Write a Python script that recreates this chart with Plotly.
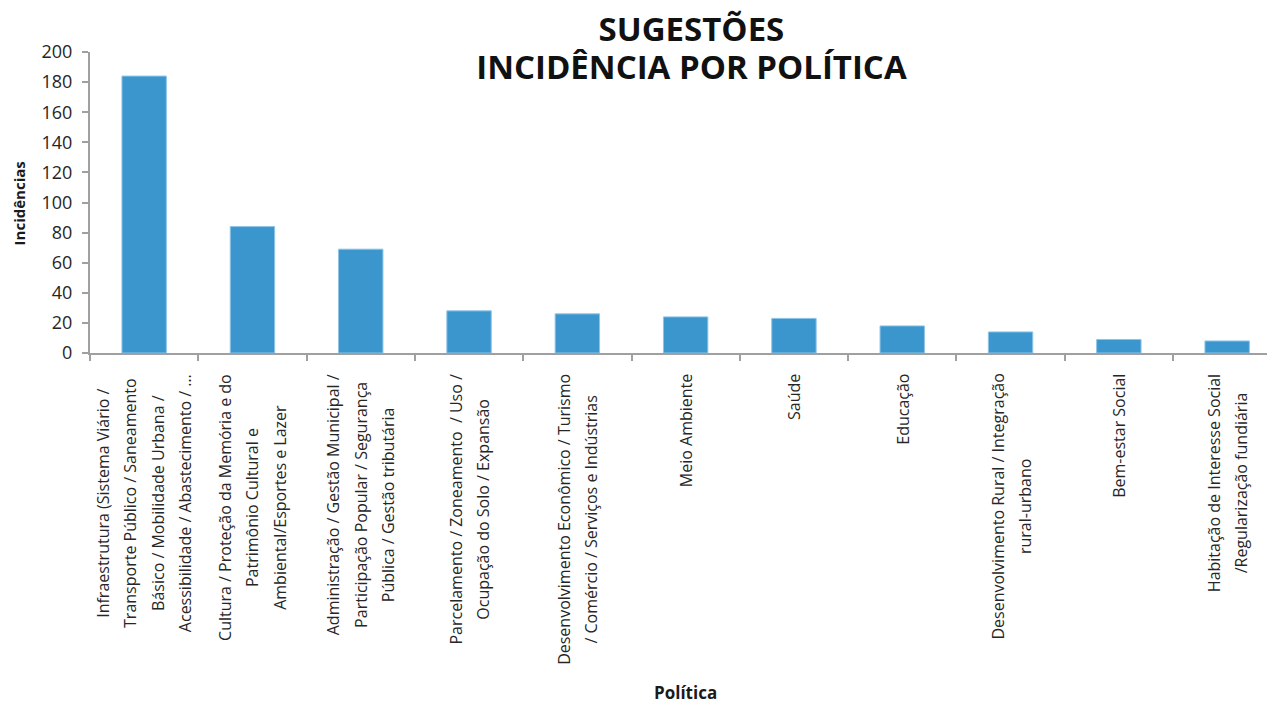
import plotly.graph_objects as go

categories = [
    "Infraestrutura",
    "Cultura",
    "Administração",
    "Parcelamento",
    "Desenvolvimento Econômico",
    "Meio Ambiente",
    "Saúde",
    "Educação",
    "Desenvolvimento Rural",
    "Bem-estar Social",
    "Habitação de Interesse Social",
]
values = [184, 84, 69, 28, 26, 24, 23, 18, 14, 9, 8]
tick_labels = [
    ["Infraestrutura (Sistema Viário /", "Transporte Público / Saneamento",
     "Básico / Mobilidade Urbana /", "Acessibilidade / Abastecimento / …"],
    ["Cultura / Proteção da Memória e do", "Patrimônio Cultural e",
     "Ambiental/Esportes e Lazer"],
    ["Administração / Gestão Municipal /", "Participação Popular / Segurança",
     "Pública / Gestão tributária"],
    ["Parcelamento / Zoneamento  / Uso /", "Ocupação do Solo / Expansão"],
    ["Desenvolvimento Econômico / Turismo", "/ Comércio / Serviços e Indústrias"],
    ["Meio Ambiente"],
    ["Saúde"],
    ["Educação"],
    ["Desenvolvimento Rural / Integração", "rural-urbano"],
    ["Bem-estar Social"],
    ["Habitação de Interesse Social", "/Regularização fundiária"],
]
y_ticks = [0, 20, 40, 60, 80, 100, 120, 140, 160, 180, 200]

title_lines = ["SUGESTÕES", "INCIDÊNCIA POR POLÍTICA"]
x_title = "Política"
y_title = "Incidências"

AXIS_COLOR = "#A0A0A0"
TEXT_COLOR = "#262626"

fig = go.Figure(
    go.Bar(
        x=categories,
        y=values,
        width=0.41,
        marker=dict(color="#3A96CD", line=dict(color="#8DC4E8", width=1)),
        hoverinfo="x+y",
    )
)

annotations = []
for cat, lines in zip(categories, tick_labels):
    txt = "<br>".join("<span style='font-size:16px'>%s</span>" % ln for ln in lines)
    annotations.append(dict(
        x=cat, xref="x", y=0, yref="paper", yshift=-19,
        text=txt, textangle=-90, showarrow=False,
        xanchor="center", yanchor="top", align="center",
        font=dict(family="Open Sans", size=21, color=TEXT_COLOR),
    ))

annotations.append(dict(
    x=0.506, xref="paper", y=0, yref="paper", yshift=-339,
    text="<b>%s</b>" % x_title, showarrow=False,
    xanchor="center", yanchor="middle",
    font=dict(family="Open Sans", size=17, color="#1a1a1a"),
))
annotations.append(dict(
    x=0, xref="paper", xshift=-71, y=0.497, yref="paper",
    text="<b>%s</b>" % y_title, showarrow=False, textangle=-90,
    xanchor="center", yanchor="middle",
    font=dict(family="Open Sans", size=15, color="#1a1a1a"),
))

title_html = "<br>".join("<span style='font-size:33px'><b>%s</b></span>" % t for t in title_lines)

fig.update_layout(
    width=1267, height=705,
    margin=dict(l=90, r=0, t=52, b=352),
    paper_bgcolor="white", plot_bgcolor="white",
    showlegend=False,
    title=dict(
        text=title_html,
        x=0.511, xanchor="center", xref="paper",
        y=0.942, yanchor="top", yref="container",
        font=dict(family="Open Sans", size=29, color="#111111"),
    ),
    annotations=annotations,
)
fig.update_xaxes(
    range=[-0.5, 10.368],
    showline=True, linecolor=AXIS_COLOR, linewidth=2,
    ticks="outside", tickson="boundaries", ticklen=6, tickwidth=2, tickcolor=AXIS_COLOR,
    showticklabels=False, showgrid=False, zeroline=False,
)
fig.update_yaxes(
    range=[0, 200], tickvals=y_ticks,
    showline=True, linecolor=AXIS_COLOR, linewidth=2,
    ticks="outside", ticklen=6, tickwidth=2, tickcolor=AXIS_COLOR,
    tickfont=dict(family="Open Sans", size=18, color=TEXT_COLOR),
    ticklabelstandoff=6,
    showgrid=False, zeroline=False,
)

fig.write_html("out.html", config={"displayModeBar": False},
               post_script="document.body.style.margin='0';")
